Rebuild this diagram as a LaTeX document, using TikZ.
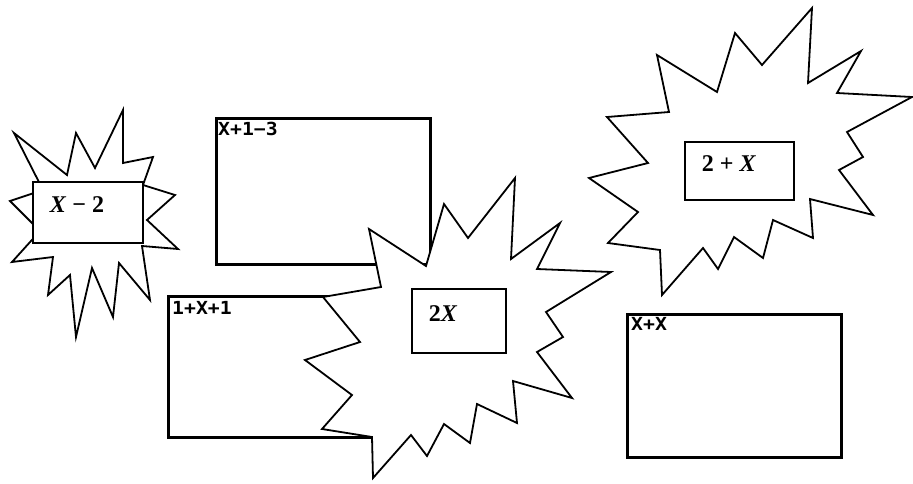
\documentclass[tikz,border=0pt]{standalone}
\usepackage{fontspec}
\usepackage{graphicx}
\setmainfont{Liberation Serif}
\newfontfamily\calcfont{DejaVu Sans Mono}
\begin{document}
\begin{tikzpicture}[x=1pt,y=-1pt,
  burst/.style={draw=black, fill=white, line width=1.8pt, line join=miter, miter limit=20},
  screen/.style={draw=black, fill=white, line width=3.2pt, inner sep=0pt, anchor=north west},
  tagbox/.style={draw=black, fill=white, line width=2pt, inner sep=0pt, anchor=north west},
  tagtext/.style={font=\bfseries\fontsize{24}{26}\selectfont, inner sep=0pt},
  calc/.style={font=\calcfont\bfseries\fontsize{18}{19}\selectfont, inner sep=0pt, anchor=north west}]
\useasboundingbox (0,0) rectangle (913,483);

% left burst
\draw[burst] (123,110) -- (95,168) -- (76,133) -- (67,175) -- (14,133) -- (43,190)
  -- (10,201) -- (40,231) -- (12,262) -- (53,257) -- (48,295) -- (70,275)
  -- (76,337) -- (92,268) -- (113,317) -- (119,263) -- (150,300) -- (142,246)
  -- (178,249) -- (147,220) -- (175,195) -- (143,185) -- (153,157) -- (123,163) -- cycle;
\node[tagbox, minimum width=110pt, minimum height=61pt] (b1) at (32,181) {};
\node[tagtext] (t1) at (77,205) {\textit{X} − 2};

% calculator screens on the left
\node[screen, minimum width=214pt, minimum height=146pt] (s1) at (215,117) {};
\node[calc] (c1) at ([shift={(3,5)}]s1.north west) {\scalebox{1.1}[1]{X+1−3}};
\node[screen, minimum width=205pt, minimum height=141pt] (s2) at (167,295) {};
\node[calc] (c2) at ([shift={(5,6)}]s2.north west) {\scalebox{1.1}[1]{1+X+1}};

% middle burst
\draw[burst] (369,229) -- (426,266) -- (444,204) -- (468,238) -- (515,178) -- (511,259)
  -- (560,223) -- (537,269) -- (611,272) -- (546,312) -- (563,337) -- (537,352)
  -- (572,398) -- (513,381) -- (517,423) -- (477,404) -- (470,443) -- (444,424)
  -- (427,456) -- (411,435) -- (373,478) -- (372,437) -- (322,429) -- (352,395)
  -- (305,360) -- (360,342) -- (323,297) -- (381,287) -- cycle;
\node[tagbox, minimum width=94pt, minimum height=64pt] (b2) at (411,288) {};
\node[tagtext] (t2) at (443,314) {2\textit{X}};

% right burst
\draw[burst] (812,8) -- (808,83) -- (861,51) -- (837,93) -- (912,97) -- (847,132)
  -- (863,157) -- (839,170) -- (873,215) -- (810,199) -- (813,238) -- (773,220)
  -- (763,258) -- (734,237) -- (718,269) -- (703,248) -- (662,295) -- (660,250)
  -- (608,243) -- (638,212) -- (589,178) -- (648,163) -- (607,117) -- (669,112)
  -- (657,55) -- (717,92) -- (735,33) -- (762,65) -- cycle;
\node[tagbox, minimum width=109pt, minimum height=58pt] (b3) at (684,141) {};
\node[tagtext] (t3) at (729,164) {2 + \textit{X}};

% calculator screen on the right
\node[screen, minimum width=214pt, minimum height=143pt] (s3) at (626,313) {};
\node[calc] (c3) at ([shift={(5,4)}]s3.north west) {\scalebox{1.1}[1]{X+X}};
\end{tikzpicture}
\end{document}
